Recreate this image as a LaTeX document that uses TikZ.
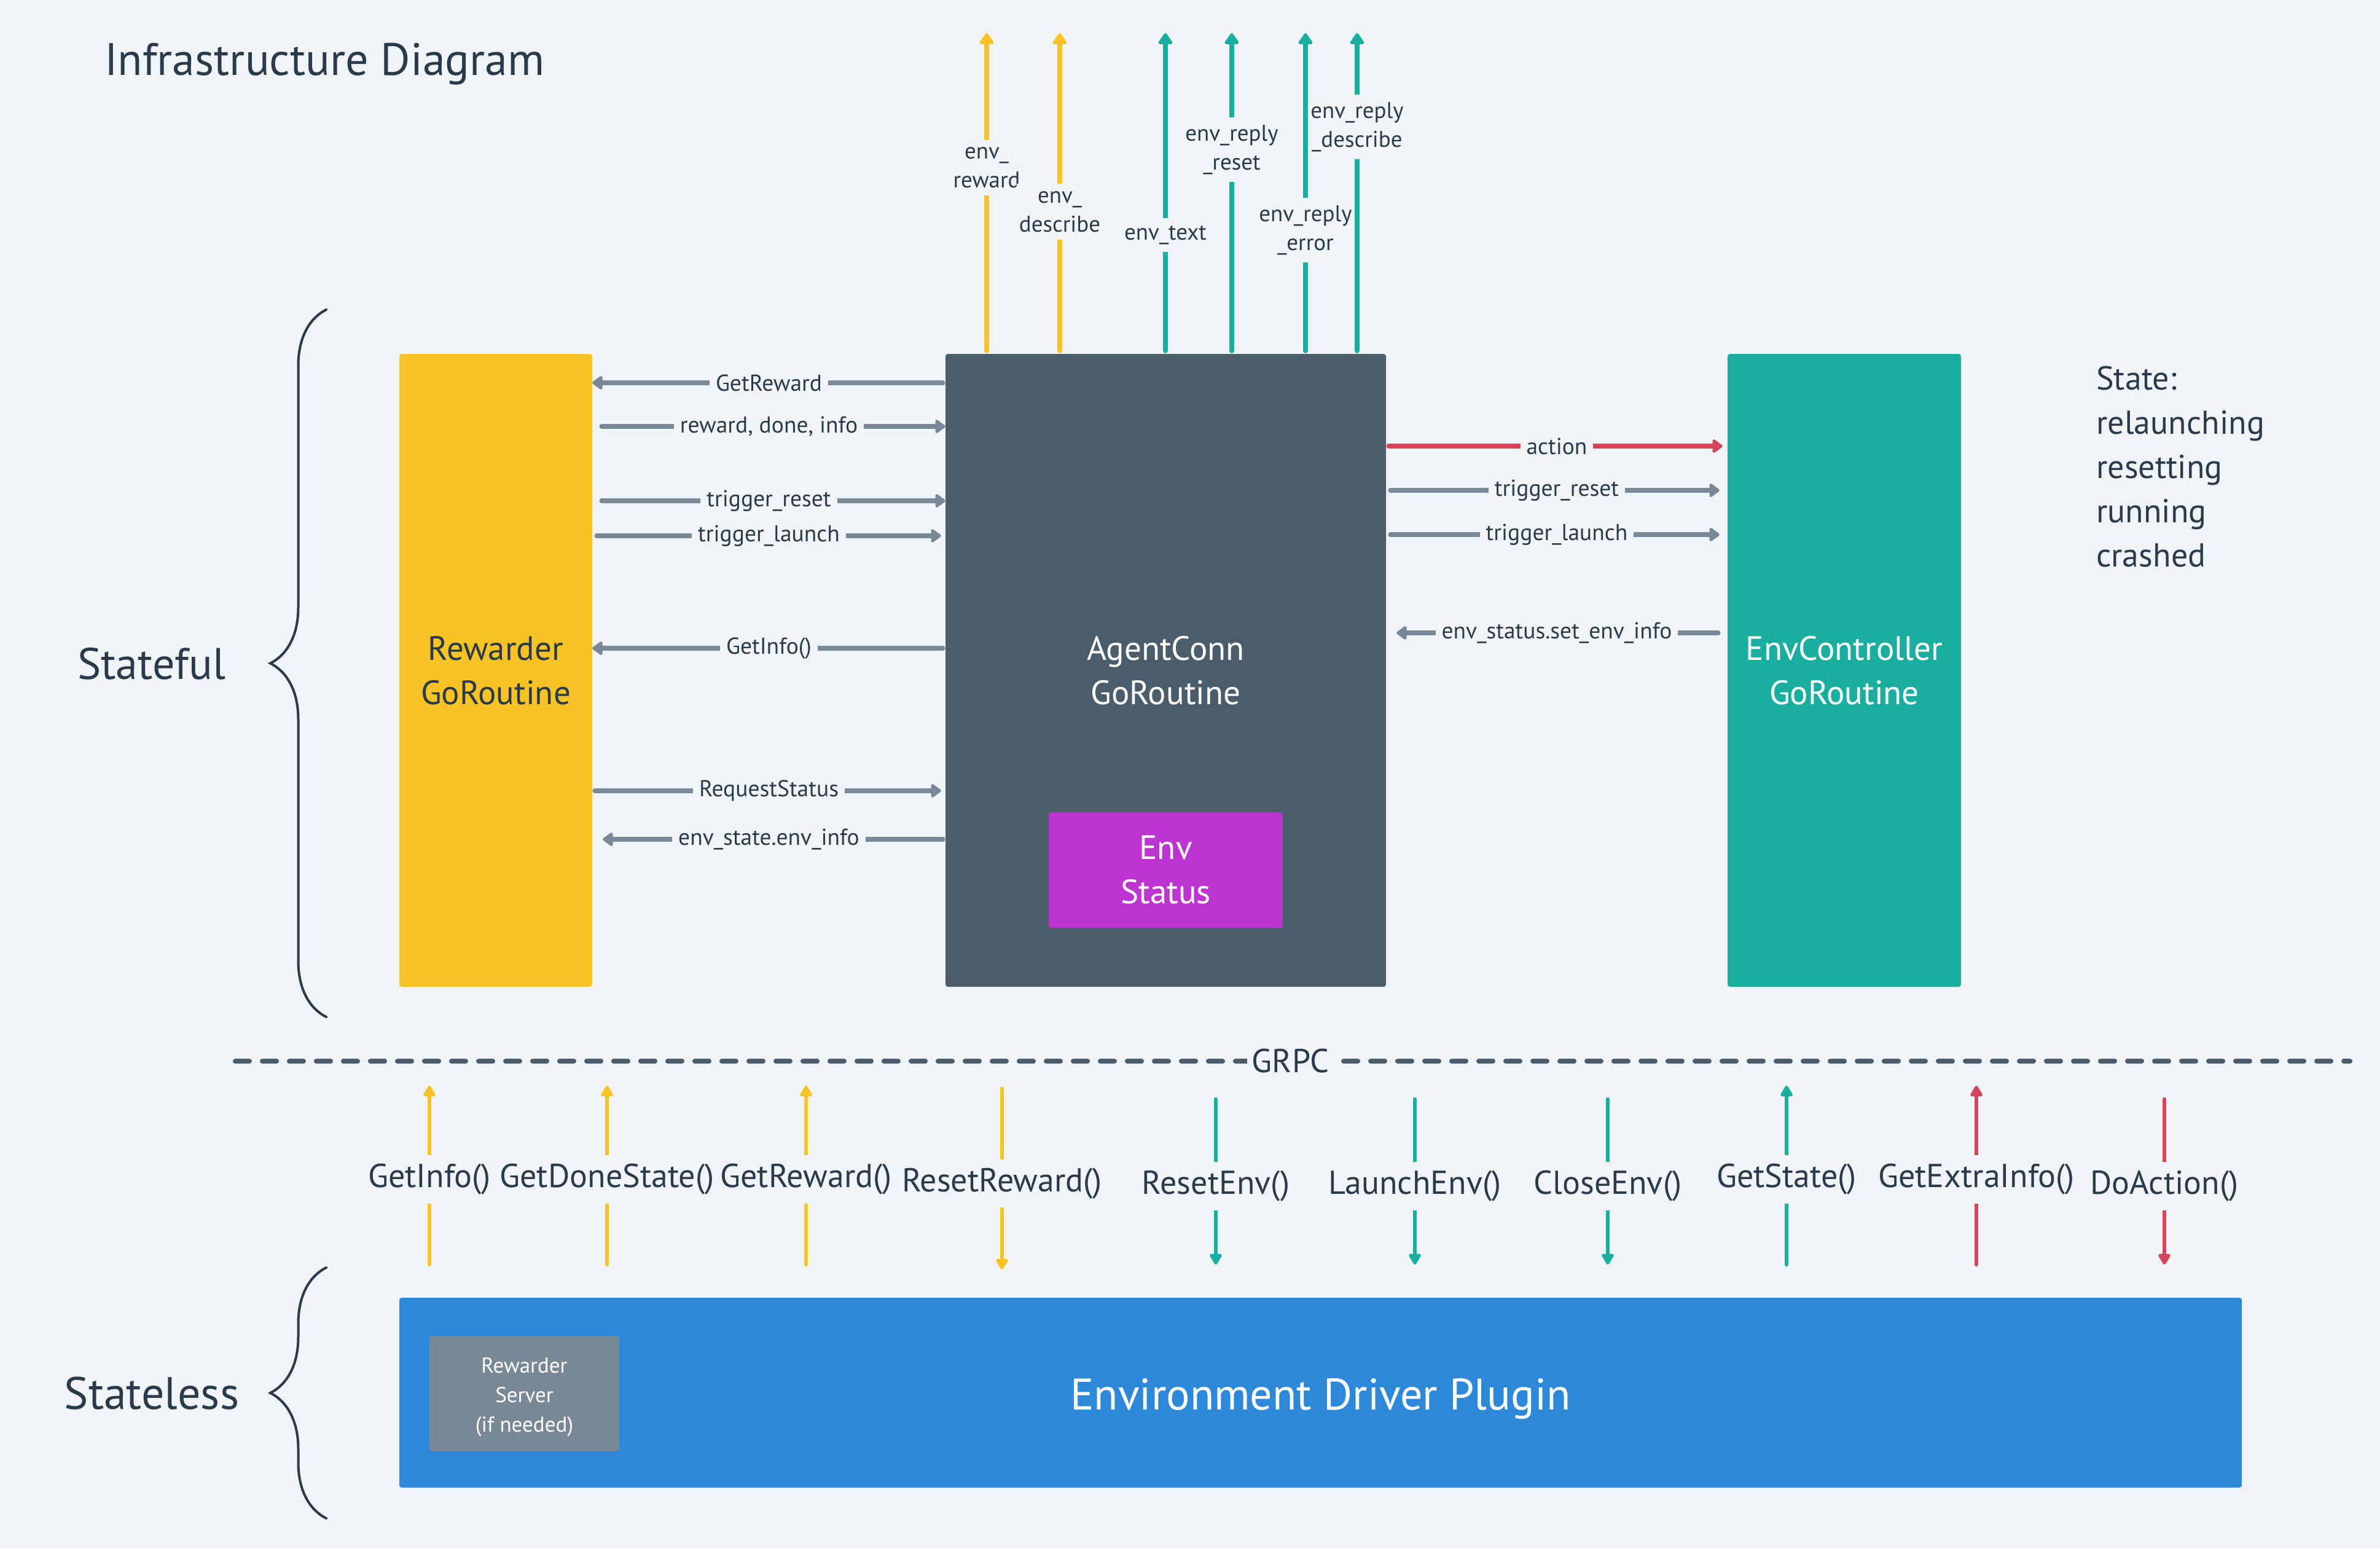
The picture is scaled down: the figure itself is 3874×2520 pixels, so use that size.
\documentclass[tikz,border=0pt]{standalone}
\usepackage{fontspec}
\setmainfont{PT Sans}
\usetikzlibrary{arrows.meta,decorations.pathreplacing,calc}
\definecolor{cBg}{HTML}{F0F4F7}
\definecolor{cInk}{HTML}{2A3A4A}
\definecolor{cYel}{HTML}{F7C325}
\definecolor{cSlate}{HTML}{4B5C6B}
\definecolor{cTeal}{HTML}{1AAE9F}
\definecolor{cArr}{HTML}{788896}
\definecolor{cRed}{HTML}{D3455B}
\definecolor{cMag}{HTML}{BD34D1}
\definecolor{cBlue}{HTML}{2D88D9}
\definecolor{cSrv}{HTML}{788896}
\tikzset{
  gobox/.style={rounded corners=4pt, inner sep=0pt, align=center, draw=none, font=\fontsize{55}{72}\selectfont},
  bigtxt/.style={text=cInk, inner sep=0pt, font=\fontsize{73}{73}\selectfont},
  lbl/.style={fill=cBg, text=cInk, inner xsep=10pt, inner ysep=3pt, font=\fontsize{37.5}{37.5}\selectfont},
  tlbl/.style={fill=cBg, text=cInk, inner xsep=4pt, inner ysep=12pt, align=center, font=\fontsize{37}{47}\selectfont},
  blbl/.style={fill=cBg, text=cInk, inner xsep=2pt, inner ysep=14pt, yshift=-7pt, font=\fontsize{54}{54}\selectfont},
  garr/.style={draw=cArr, line width=7.5pt, line cap=round, -{Triangle[width=25pt,length=18pt,round]}},
  tarr/.style={line width=8pt, line cap=round, shorten <=5pt, -{Triangle[width=26pt,length=20pt,round]}},
  barr/.style={line width=6.5pt, line cap=round, -{Triangle[width=22pt,length=20pt,round]}},
  brc/.style={draw=cInk, line width=4pt, line cap=round, decorate, decoration={brace, amplitude=91pt}},
  grpc/.style={draw=cSlate, line width=8pt, line cap=round, dash pattern=on 23pt off 21pt}
}
\begin{document}
\begin{tikzpicture}[x=1pt,y=-1pt]
\fill[cBg] (0,0) rectangle (3874,2520);
\useasboundingbox (0,0) rectangle (3874,2520);

% titles and side labels
\node[bigtxt, anchor=west, font=\fontsize{74}{74}\selectfont] (title) at (170,104) {Infrastructure Diagram};
\node[bigtxt, font=\fontsize{72}{72}\selectfont] (stateful) at (247,1080) {Stateful};
\node[bigtxt, font=\fontsize{74}{74}\selectfont] (stateless) at (247,2268) {Stateless};

% braces
\coordinate (bfA) at (531,1655);
\coordinate (bfB) at (531,504);
\coordinate (blA) at (531,2471);
\coordinate (blB) at (531,2063);
\draw[brc] (bfA) -- (bfB);
\draw[brc] (blA) -- (blB);

% boxes
\node[gobox, fill=cYel, text=cInk, minimum width=314pt, minimum height=1030pt] (rew) at (807,1091) {Rewarder\\GoRoutine};
\node[gobox, fill=cSlate, text=white, minimum width=717pt, minimum height=1030pt] (agent) at (1897.5,1091) {AgentConn\\GoRoutine};
\node[gobox, fill=cMag, text=white, minimum width=381pt, minimum height=188pt] (envst) at (1897.5,1416) {Env\\Status};
\node[gobox, fill=cTeal, text=white, minimum width=380pt, minimum height=1030pt] (envc) at (3002,1091) {EnvController\\GoRoutine};
\node[text=cInk, inner sep=0pt, anchor=west, align=left, font=\fontsize{54}{72}\selectfont] (state) at (3412,760) {State:\\relaunching\\resetting\\running\\crashed};

\node[gobox, fill=cBlue, text=white, minimum width=2999pt, minimum height=309pt, font=\fontsize{72}{72}\selectfont] (plugin) at (2149.5,2266.5) {\raisebox{-10pt}[\height][\depth]{Environment Driver Plugin}};
\node[gobox, fill=cSrv, text=white, minimum width=309pt, minimum height=188pt, font=\fontsize{35}{48}\selectfont] (server) at (853.5,2268) {\raisebox{-5pt}[\height][\depth]{\begin{tabular}{@{}c@{}}Rewarder\\[-0.3pt]Server\\(if needed)\end{tabular}}};

% left side arrows
\coordinate (yA) at (0,623);
\coordinate (yB) at (0,694);
\coordinate (yC) at (0,815);
\coordinate (yD) at (0,872);
\coordinate (yE) at (0,1055);
\coordinate (yF) at (0,1287);
\coordinate (yG) at (0,1366);
\draw[garr, shorten <=4pt] (agent.west |- yA) -- (rew.east |- yA) node[lbl, midway] {GetReward};
\draw[garr, shorten <=15pt] (rew.east |- yB) -- (agent.west |- yB) node[lbl, midway] {reward, done, info};
\draw[garr, shorten <=15pt] (rew.east |- yC) -- (agent.west |- yC) node[lbl, midway] {trigger\_reset};
\draw[garr, shorten <=7pt, shorten >=7pt] (rew.east |- yD) -- (agent.west |- yD) node[lbl, midway] {trigger\_launch};
\draw[garr, shorten <=4pt] (agent.west |- yE) -- (rew.east |- yE) node[lbl, midway] {GetInfo()};
\draw[garr, shorten <=4pt, shorten >=7pt] (rew.east |- yF) -- (agent.west |- yF) node[lbl, midway] {RequestStatus};
\draw[garr, shorten <=4pt, shorten >=17pt] (agent.west |- yG) -- (rew.east |- yG) node[lbl, midway] {env\_state.env\_info};

% right side arrows
\coordinate (yH) at (0,726);
\coordinate (yI) at (0,798);
\coordinate (yJ) at (0,870);
\coordinate (yK) at (0,1030);
\draw[garr, draw=cRed, shorten <=4pt, shorten >=8pt] (agent.east |- yH) -- (envc.west |- yH) node[lbl, midway] {action};
\draw[garr, shorten <=7pt, shorten >=13pt] (agent.east |- yI) -- (envc.west |- yI) node[lbl, midway] {trigger\_reset};
\draw[garr, shorten <=7pt, shorten >=13pt] (agent.east |- yJ) -- (envc.west |- yJ) node[lbl, midway] {trigger\_launch};
\draw[garr, shorten <=15pt, shorten >=17pt] (envc.west |- yK) -- (agent.east |- yK) node[lbl, midway] {env\_status.set\_env\_info};

% top arrows
\coordinate (tA) at (1606,54);
\coordinate (tB) at (1725,54);
\coordinate (tC) at (1897,54);
\coordinate (tD) at (2005,54);
\coordinate (tE) at (2125,54);
\coordinate (tF) at (2209,54);
\draw[tarr, draw=cYel] (tA |- agent.north) -- (tA) node[tlbl, pos=0.580] {env\_\\reward};
\draw[tarr, draw=cYel] (tB |- agent.north) -- (tB) node[tlbl, pos=0.443] {env\_\\describe};
\draw[tarr, draw=cTeal] (tC |- agent.north) -- (tC) node[tlbl, pos=0.370] {env\_text};
\draw[tarr, draw=cTeal] (tD |- agent.north) -- (tD) node[tlbl, pos=0.637] {env\_reply\\\_reset};
\draw[tarr, draw=cTeal] (tE |- agent.north) -- (tE) node[tlbl, pos=0.386] {env\_reply\\\_error};
\draw[tarr, draw=cTeal] (tF |- agent.north) -- (tF) node[tlbl, pos=0.708] {env\_reply\\\_describe};

% GRPC line
\coordinate (gL) at (383,1727);
\coordinate (gR) at (3825,1727);
\draw[grpc] (gL) -- (gR) node[pos=0.499, fill=cBg, text=cInk, inner xsep=8pt, inner ysep=2pt, font=\fontsize{54}{54}\selectfont] (grpctxt) {GRPC};

% bottom arrows (up: tip at top; down: tip at bottom)
\coordinate (bAT) at (699,1767);  \coordinate (bAB) at (699,2058);
\coordinate (bBT) at (988,1767);  \coordinate (bBB) at (988,2058);
\coordinate (bCT) at (1312,1767); \coordinate (bCB) at (1312,2058);
\coordinate (bDT) at (1631,1772); \coordinate (bDB) at (1631,2066);
\coordinate (bET) at (1979,1789); \coordinate (bEB) at (1979,2058);
\coordinate (bFT) at (2303,1789); \coordinate (bFB) at (2303,2058);
\coordinate (bGT) at (2617,1789); \coordinate (bGB) at (2617,2058);
\coordinate (bHT) at (2908,1767); \coordinate (bHB) at (2908,2058);
\coordinate (bIT) at (3217,1767); \coordinate (bIB) at (3217,2058);
\coordinate (bJT) at (3523,1789); \coordinate (bJB) at (3523,2058);
\draw[barr, draw=cYel]  (bAB) -- (bAT) node[blbl, midway] {GetInfo()};
\draw[barr, draw=cYel]  (bBB) -- (bBT) node[blbl, midway] {GetDoneState()};
\draw[barr, draw=cYel]  (bCB) -- (bCT) node[blbl, midway] {GetReward()};
\draw[barr, draw=cYel]  (bDT) -- (bDB) node[blbl, midway] {ResetReward()};
\draw[barr, draw=cTeal] (bET) -- (bEB) node[blbl, midway] {ResetEnv()};
\draw[barr, draw=cTeal] (bFT) -- (bFB) node[blbl, midway] {LaunchEnv()};
\draw[barr, draw=cTeal] (bGT) -- (bGB) node[blbl, midway] {CloseEnv()};
\draw[barr, draw=cTeal] (bHB) -- (bHT) node[blbl, midway] {GetState()};
\draw[barr, draw=cRed]  (bIB) -- (bIT) node[blbl, midway] {GetExtraInfo()};
\draw[barr, draw=cRed]  (bJT) -- (bJB) node[blbl, midway] {DoAction()};
\end{tikzpicture}
\end{document}
